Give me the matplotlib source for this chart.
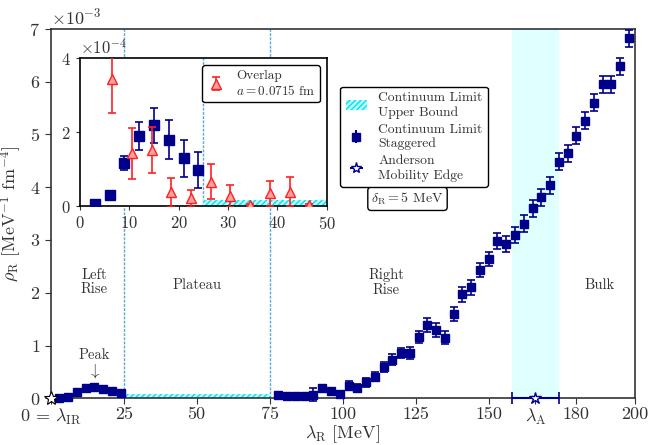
import matplotlib
matplotlib.use("Agg")
import matplotlib.pyplot as plt
import numpy as np
from matplotlib.patches import Patch

plt.rcParams['font.family'] = ['cmr10', 'DejaVu Serif']
plt.rcParams['mathtext.fontset'] = 'cm'
plt.rcParams['axes.formatter.use_mathtext'] = True
plt.rcParams['axes.unicode_minus'] = False

# ---------------- data ----------------
# Continuum limit staggered (rho in units of 1e-3)
x_stag = [3, 6, 9, 12, 15, 18, 21, 24,
          78, 81, 84, 87, 90, 93, 96, 99, 102, 105, 108, 111, 114, 117, 120,
          123, 126, 129, 132, 135, 138, 141, 144, 147, 150, 153, 156, 159,
          162, 165, 168, 171, 174, 177, 180, 183, 186, 189, 192, 195, 198]
y_stag = [0.005, 0.030, 0.116, 0.190, 0.219, 0.180, 0.129, 0.098,
          0.07, 0.035, 0.045, 0.04, 0.07, 0.19, 0.14, 0.09, 0.24, 0.20, 0.30,
          0.41, 0.59, 0.73, 0.86, 0.86, 1.16, 1.39, 1.29, 1.15, 1.60, 1.97,
          2.10, 2.43, 2.64, 2.98, 2.92, 3.10, 3.31, 3.60, 3.81, 4.04, 4.48,
          4.64, 4.98, 5.26, 5.60, 5.95, 5.95, 6.29, 6.82]
e_stag = [0.002, 0.005, 0.019, 0.037, 0.047, 0.053, 0.050, 0.048,
          0.03, 0.03, 0.03, 0.03, 0.12, 0.06, 0.06, 0.05, 0.09, 0.08, 0.09,
          0.09, 0.10, 0.10, 0.10, 0.11, 0.12, 0.13, 0.13, 0.13, 0.13, 0.14,
          0.14, 0.14, 0.14, 0.15, 0.15, 0.15, 0.16, 0.16, 0.16, 0.16, 0.16,
          0.16, 0.16, 0.16, 0.16, 0.16, 0.16, 0.16, 0.16]

# Overlap a = 0.0715 fm (rho in units of 1e-4)
x_ovl = [6.5, 10.5, 14.5, 18.5, 22.5, 26.5, 30.5, 34.5, 38.5, 42.5, 46.5]
y_ovl = [3.43, 1.43, 1.52, 0.37, 0.21, 0.66, 0.27, 0.03, 0.34, 0.39, 0.03]
e_ovl = [0.90, 0.69, 0.63, 0.40, 0.23, 0.47, 0.30, 0.03, 0.34, 0.39, 0.03]

# Continuum-limit upper bound on the plateau
ub_x = [25, 75]
ub_main = 0.09     # 1e-3
ub_inset = 0.16    # 1e-4

# Anderson mobility edge
lam_A = 166
lam_A_err = 8

# IR edge
lam_IR = 0

region_lines = [25, 75]
delta_R = 5

xticks = [0, 25, 50, 75, 100, 125, 150, lam_A, 180, 200]
xticklabels = [r'0 = $\lambda_{\rm IR}$', '25', '50', '75', '100', '125', '150',
               r'$\lambda_{\rm A}$', '180', '200']

# ---------------- style ----------------
navy = '#00008b'
gray = '#333333'
lineblue = '#5aa9dc'

fig = plt.figure(figsize=(6.49, 4.45), dpi=100)
ax = fig.add_axes([0.078, 0.105, 0.900, 0.830])

x_stag_a = np.array(x_stag)
y_stag_a = np.array(y_stag) * 1e-3
e_stag_a = np.array(e_stag) * 1e-3

ax.axvspan(lam_A - lam_A_err, lam_A + lam_A_err, color='#e0ffff', zorder=0, lw=0)
for xv in region_lines:
    ax.axvline(xv, color=lineblue, ls=(0, (2, 1)), lw=1.0, zorder=1)
ax.fill_between(ub_x, 0, ub_main * 1e-3, facecolor='#b8ffff', edgecolor='#00e0f0',
                hatch='//////', lw=0, zorder=2)

ax.errorbar(x_stag_a, y_stag_a, yerr=e_stag_a, fmt='s', color=navy, ms=6,
            capsize=3, elinewidth=1.2, capthick=1.2, mec=navy, zorder=4, clip_on=False)
ax.errorbar([lam_A], [0], xerr=[lam_A_err], fmt='*', color=navy, mfc='white',
            mec=navy, ms=9, capsize=4, elinewidth=1.5, capthick=1.2, zorder=5, clip_on=False)
ax.plot([lam_IR], [0], marker='*', ms=10, mfc='white', mec='black', mew=0.8,
        clip_on=False, zorder=6, ls='none')

ax.set_xlim(0, 200)
ax.set_ylim(0, 7e-3)
ax.set_xticks(xticks)
ax.set_xticklabels(xticklabels)
ax.ticklabel_format(axis='y', style='sci', scilimits=(0, 0), useMathText=True)
ax.tick_params(labelsize=13, colors=gray, length=4)
ax.tick_params(axis='x', pad=2)
ax.yaxis.get_offset_text().set_fontsize(13)
ax.yaxis.get_offset_text().set_color(gray)
for s in ax.spines.values():
    s.set_color(gray)
    s.set_linewidth(1.2)
ax.set_xlabel(r'$\lambda_{\rm R}$ [MeV]', fontsize=13, color=gray)
ax.xaxis.set_label_coords(0.5, -0.068)
ax.set_ylabel(r'$\rho_{\rm R}$ [MeV$^{-1}$ fm$^{-4}$]', fontsize=13, color=gray, labelpad=4)

# region annotations
ax.text(15, 2.2e-3, 'Left\nRise', ha='center', va='center', fontsize=10.5, color=gray, linespacing=1.1)
ax.text(50, 2.15e-3, 'Plateau', ha='center', va='center', fontsize=10.5, color=gray)
ax.text(115, 2.2e-3, 'Right\nRise', ha='center', va='center', fontsize=10.5, color=gray, linespacing=1.1)
ax.text(188, 2.15e-3, 'Bulk', ha='center', va='center', fontsize=10.5, color=gray)
ax.text(15, 0.82e-3, 'Peak', ha='center', va='center', fontsize=10.5, color=gray)
ax.text(15, 0.52e-3, r'$\downarrow$', ha='center', va='center', fontsize=12, color=gray)

ax.text(0.611, 0.540, r'$\delta_{\rm R} = %d$ MeV' % delta_R, transform=ax.transAxes,
        ha='center', va='center', fontsize=10, color=gray,
        bbox=dict(boxstyle='round,pad=0.25', fc='white', ec='black', lw=1.0))

ub_handle = Patch(facecolor='#b8ffff', edgecolor='#00e0f0', hatch='//////', lw=0)
leg_eb1 = ax.errorbar([], [], yerr=[], fmt='s', color=navy, ms=6, capsize=3)
leg_eb2 = ax.errorbar([], [], xerr=[], fmt='*', color=navy, mfc='white', ms=8, capsize=3)
leg = ax.legend([ub_handle, leg_eb1, leg_eb2],
                ['Continuum Limit\nUpper Bound', 'Continuum Limit\nStaggered', 'Anderson\nMobility Edge'],
                loc='upper left', bbox_to_anchor=(0.484, 0.862), fontsize=9.8,
                frameon=True, fancybox=True, edgecolor='black', framealpha=1,
                handlelength=1.6, borderpad=0.4, labelspacing=0.35)
leg.get_frame().set_linewidth(1.0)
for t in leg.get_texts():
    t.set_color(gray)

# ---------------- inset ----------------
ins = fig.add_axes([0.1233, 0.537, 0.380, 0.332])
ins.axvline(25, color=lineblue, ls=(0, (2, 1)), lw=1.0, zorder=1)
ins.fill_between([25, 50], 0, ub_inset * 1e-4, facecolor='#b8ffff', edgecolor='#00e0f0',
                 hatch='//////', lw=0, zorder=2)
ins.errorbar(x_stag_a, y_stag_a, yerr=e_stag_a, fmt='s', color=navy, ms=7,
             capsize=3, elinewidth=1.2, capthick=1.2, zorder=4)
ovl = ins.errorbar(x_ovl, np.array(y_ovl) * 1e-4, yerr=np.array(e_ovl) * 1e-4, fmt='^',
                   color='#ff2020', mfc='#ffa0a0', mec='#ff2020', ms=7, capsize=3,
                   elinewidth=1.2, capthick=1.2, zorder=5)
ins.set_xlim(0, 50)
ins.set_ylim(0, 4e-4)
ins.set_xticks([0, 10, 20, 30, 40, 50])
ins.set_yticks([0, 2e-4, 4e-4])
ins.ticklabel_format(axis='y', style='sci', scilimits=(0, 0), useMathText=True)
ins.tick_params(labelsize=12, colors=gray, length=3)
ins.yaxis.get_offset_text().set_fontsize(12)
ins.yaxis.get_offset_text().set_color(gray)
for s in ins.spines.values():
    s.set_color('black')
    s.set_linewidth(1.2)
leg2 = ins.legend([ovl], ['Overlap\n$a = 0.0715$ fm'], loc='upper right', fontsize=9.5,
                  frameon=True, fancybox=True, edgecolor='black', framealpha=1,
                  handlelength=1.4, borderpad=0.35)
for t in leg2.get_texts():
    t.set_color(gray)

fig.savefig('out.png', dpi=100)
